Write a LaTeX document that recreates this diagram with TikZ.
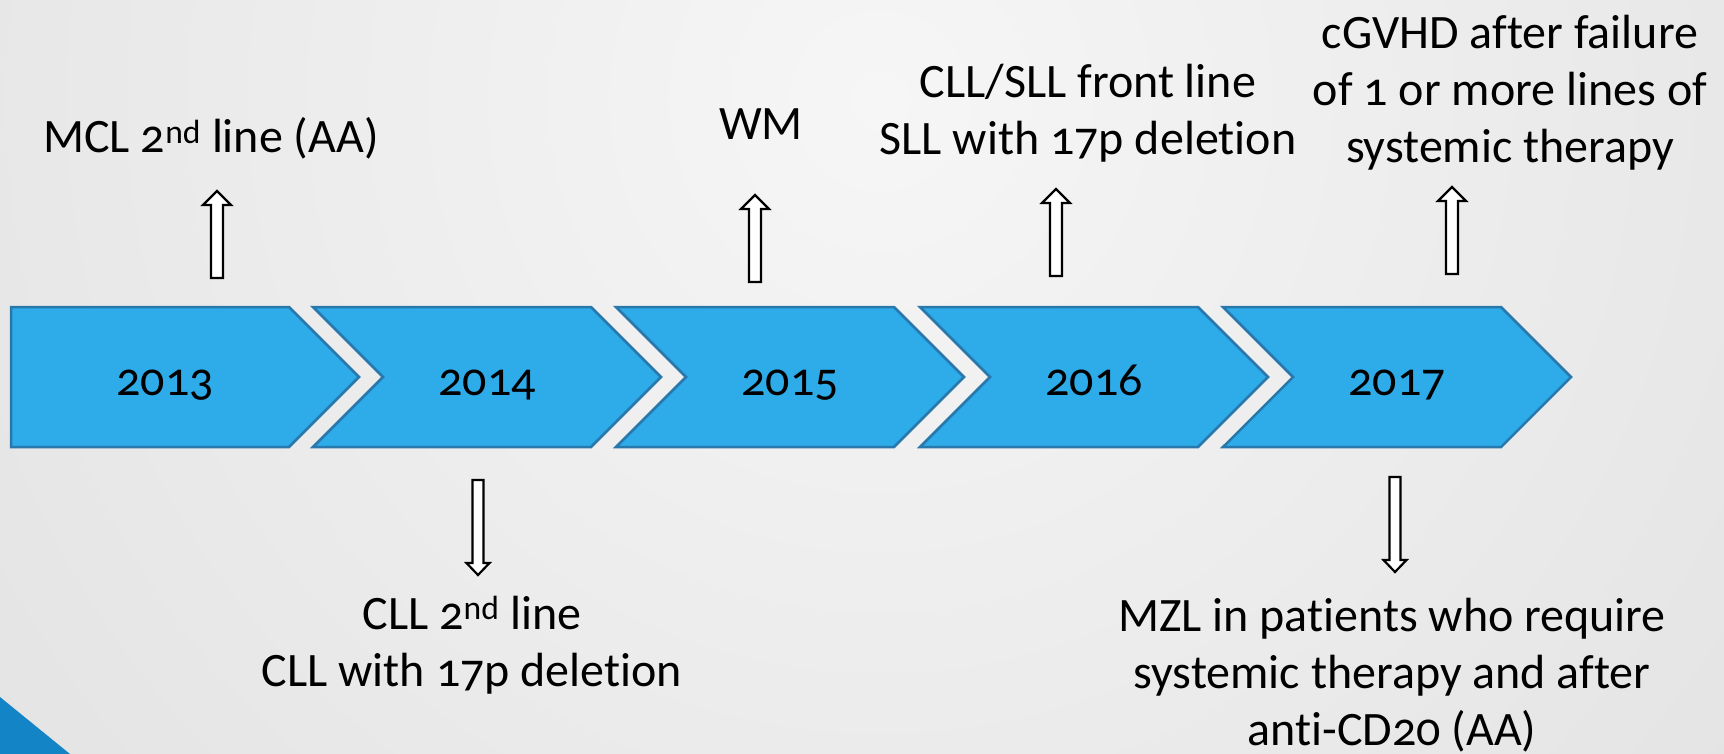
\documentclass[tikz,border=0pt]{standalone}
\usepackage{fontspec}
\setmainfont{Carlito}[Numbers=OldStyle, Ligatures=NoCommon]
\usetikzlibrary{shapes.symbols}
\definecolor{yearBlue}{HTML}{2EABE9}
\definecolor{yearEdge}{HTML}{2878AC}
\definecolor{cornerBlue}{HTML}{1384C6}
\definecolor{bgLight}{HTML}{F6F6F6}
\definecolor{bgDark}{HTML}{D4D4D4}
\tikzset{
    year-box/.style = {signal, signal to=east, signal from=west, draw=yearEdge, fill=yearBlue, line width=2.5pt, minimum width=348pt, minimum height=140pt, inner sep=0pt, text height=42pt, text depth=6pt, font=\fontsize{48}{57}\selectfont},
    event-text/.style = {align=center, inner sep=0pt, anchor=base, font=\fontsize{48}{57}\selectfont},
    hollow-arrow/.style = {draw=black, fill=white, line width=2.2pt},
    up-arrow/.pic = {\path[hollow-arrow] (0,0) -- (-14,14) -- (-6,14) -- (-6,87) -- (6,87) -- (6,14) -- (14,14) -- cycle;},
    down-arrow/.pic = {\path[hollow-arrow] (0,0) -- (-11.5,-12) -- (-5.5,-12) -- (-5.5,-95) -- (5.5,-95) -- (5.5,-12) -- (11.5,-12) -- cycle;},
}

\begin{document}
\begin{tikzpicture}[x=1pt, y=-1pt]
\useasboundingbox (0,0) rectangle (1724,754);
% grey backdrop, lighter towards the top
\begin{scope}
    \clip (0,0) rectangle (1724,754);
    \shade[inner color=bgLight, outer color=bgDark] (880,100) circle (2050);
\end{scope}
\fill[cornerBlue] (0,697) -- (70,754) -- (0,754) -- cycle;

% the years
\node[year-box, signal from=nowhere] (y2013) at (150,377) {\kern30pt 2013};
\foreach \yr/\x in {2014/487, 2015/790, 2016/1094, 2017/1397}
    \node[year-box] (y\yr) at (\x,377) {\yr};

% hollow arrows
\pic at (217,191) {up-arrow};
\pic at (755,195) {up-arrow};
\pic at (1056,189) {up-arrow};
\pic at (1452,187) {up-arrow};
\pic at (478,575) {down-arrow};
\pic at (1395,572) {down-arrow};

% events above and below (base = last line)
\node[event-text] (mcl) at (211,153) {MCL 2\textsuperscript{nd} line (AA)};
\node[event-text] (wm) at (761,140) {WM};
\node[event-text] (cllsll) at (1088,155) {CLL/SLL front line\\SLL with 17p deletion};
\node[event-text] (cgvhd) at (1510,163) {cGVHD after failure\\of 1 or more lines of\\systemic therapy};
\node[event-text] (cll) at (472,686) {CLL 2\textsuperscript{nd} line\\CLL with 17p deletion};
\node[event-text] (mzl) at (1392,745) {MZL in patients who require\\systemic therapy and after\\anti-CD20 (AA)};
\end{tikzpicture}
\end{document}
